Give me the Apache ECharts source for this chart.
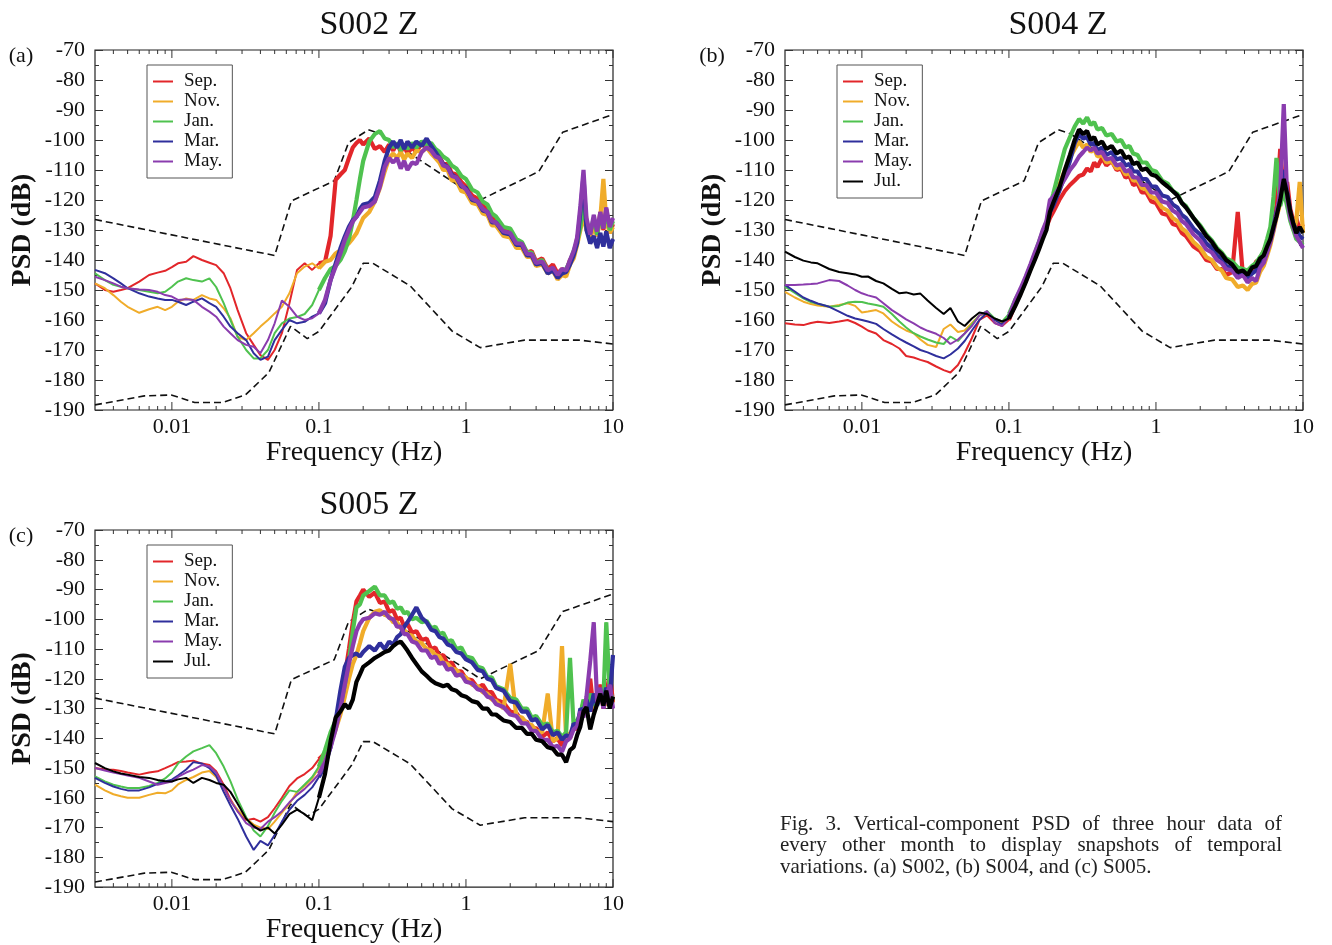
<!DOCTYPE html>
<html><head><meta charset="utf-8">
<script src="https://cdn.jsdelivr.net/npm/echarts@6/dist/echarts.min.js"></script>
<style>html,body{margin:0;padding:0;background:#fff}#chart{width:1332px;height:945px}</style>
</head><body><div id="chart"></div>
<script>
// ---------- DATA ----------
const FREQ = [
0.003,0.0035,0.004,0.0045,0.005,0.006,0.007,0.008,0.009,0.010,
0.011,0.0125,0.014,0.016,0.018,0.020,0.0225,0.025,0.028,0.032,
0.036,0.040,0.045,0.050,0.056,0.063,0.071,0.080,0.090,0.100,
0.11,0.12,0.13,0.14,0.15,0.16,0.17,0.18,
0.19,0.20,0.22,0.24,0.26,0.28,0.30,0.32,0.34,0.36,
0.38,0.40,0.43,0.46,0.50,0.54,0.58,0.62,0.66,0.70,
0.75,0.80,0.86,0.93,1.0,1.1,1.2,1.3,1.4,1.5,
1.6,1.8,2.0,2.2,2.4,2.6,2.8,3.0,3.3,3.6,
3.9,4.2,4.5,4.8,5.1,5.4,5.7,6.0,6.3,6.6,
7.0,7.4,7.8,8.2,8.6,9.0,9.5,10];

// Peterson high / low noise models (dashed)
const NHNM_F = [0.003,0.05,0.065,0.127,0.159,0.217,0.263,1.25,3.13,4.55,10];
const NHNM_DB = [-126.5,-138.5,-120.3,-113.6,-100.9,-96.6,-98.0,-120.0,-110.5,-97.4,-91.5];
const NLNM_F = [0.003,0.0065,0.0099,0.0143,0.022,0.0316,0.0457,0.0641,0.0833,0.1,0.167,0.2,0.233,0.417,0.806,1.25,2.5,5.88,10];
const NLNM_DB = [-188.3,-185.3,-185.0,-187.5,-187.5,-185.0,-177.5,-162.1,-166.2,-163.8,-149.0,-141.1,-141.1,-148.6,-163.7,-169.2,-166.7,-166.7,-168.0];

// Panel (a) S002 Z
const A_SEP = [
-147.8,-150.0,-150.6,-150.0,-149.4,-147.2,-145.0,-144.2,-143.6,-142.4,
-141.1,-140.6,-138.7,-140.0,-140.9,-141.7,-144.4,-149.4,-156.7,-164.4,
-168.3,-171.7,-173.3,-170.0,-164.4,-154.4,-143.3,-141.1,-143.3,-141.1,
-140.6,-132.0,-113.3,-111.5,-110.0,-106.0,-102.5,-101.0,
-100.0,-101.5,-99.5,-103.0,-102.0,-104.0,-101.5,-103.5,-101.0,-104.0,
-102.0,-104.5,-102.5,-104.0,-101.0,-103.0,-102.5,-105.0,-105.5,-108.0,
-108.0,-111.0,-111.5,-114.0,-115.5,-118.5,-119.5,-122.0,-123.0,-126.0,
-126.5,-130.0,-130.5,-134.0,-134.5,-137.5,-137.0,-140.5,-139.5,-143.0,
-141.5,-144.5,-143.0,-144.0,-140.0,-138.5,-133.0,-128.0,-118.0,-127.0,
-133.0,-127.0,-132.0,-124.0,-130.0,-123.0,-131.0,-128.0];
const A_NOV = [
-147.8,-149.4,-151.7,-153.9,-155.6,-157.6,-156.4,-155.6,-156.7,-155.6,
-153.9,-152.8,-153.3,-151.7,-152.8,-153.3,-156.1,-159.4,-165.6,-166.7,
-164.4,-162.2,-160.0,-157.8,-155.6,-151.1,-144.4,-142.2,-141.1,-142.8,
-140.6,-140.0,-137.8,-136.7,-135.6,-134.4,-132.8,-131.1,
-128.5,-126.0,-124.0,-120.5,-116.0,-110.5,-106.0,-104.5,-106.0,-104.0,
-106.5,-104.5,-106.0,-103.5,-104.0,-102.5,-104.5,-106.0,-107.5,-110.0,
-110.0,-113.5,-113.5,-117.0,-117.5,-121.0,-121.5,-124.5,-125.0,-128.5,
-128.5,-132.0,-132.5,-136.0,-136.0,-139.0,-139.0,-142.0,-141.5,-144.5,
-143.5,-146.5,-145.0,-145.5,-141.5,-139.5,-135.0,-130.0,-125.0,-130.0,
-133.0,-128.0,-132.0,-126.0,-113.0,-127.0,-131.0,-129.0];
const A_JAN = [
-144.4,-146.7,-148.3,-148.9,-149.4,-150.0,-150.6,-151.1,-150.6,-148.9,
-147.2,-146.1,-146.7,-147.2,-146.1,-149.0,-154.4,-160.0,-165.6,-170.0,
-172.8,-172.8,-170.0,-164.4,-161.1,-159.5,-159.0,-158.0,-155.0,-150.0,
-146.0,-143.0,-142.0,-140.0,-137.0,-133.0,-127.0,-120.0,
-113.0,-107.0,-100.5,-98.0,-97.0,-99.5,-100.0,-102.5,-101.0,-103.5,
-101.5,-103.0,-101.0,-102.5,-100.5,-101.5,-101.0,-103.0,-104.0,-105.5,
-106.5,-108.5,-109.5,-112.0,-113.0,-116.5,-117.5,-120.5,-121.5,-124.5,
-125.5,-129.0,-129.5,-133.0,-134.0,-137.5,-137.5,-141.0,-140.0,-143.5,
-143.0,-145.5,-143.5,-143.0,-140.5,-137.0,-134.0,-129.0,-121.0,-128.5,
-131.0,-126.0,-131.5,-125.5,-129.0,-124.0,-130.0,-127.0];
const A_MAR = [
-143.3,-144.4,-146.1,-147.8,-149.4,-151.1,-152.2,-152.8,-153.3,-153.3,
-153.9,-155.0,-153.9,-152.8,-154.4,-155.6,-158.9,-162.2,-164.4,-166.7,
-171.1,-173.3,-172.2,-166.7,-163.3,-160.0,-161.1,-160.6,-158.9,-157.8,
-154.4,-146.7,-141.1,-136.1,-132.2,-128.9,-126.7,-125.6,
-123.0,-121.5,-121.0,-119.0,-113.5,-107.0,-102.5,-100.5,-102.5,-100.0,
-103.0,-100.5,-102.5,-100.5,-102.0,-99.5,-102.0,-104.0,-106.0,-108.0,
-109.0,-111.5,-112.5,-115.5,-116.0,-120.0,-120.5,-123.5,-124.0,-127.5,
-127.5,-131.0,-131.5,-135.0,-135.0,-138.5,-138.5,-141.5,-141.0,-144.5,
-143.5,-146.0,-144.5,-144.0,-141.5,-138.5,-134.5,-124.0,-112.0,-130.0,
-134.5,-132.0,-136.0,-131.0,-135.5,-130.5,-136.0,-133.0];
const A_MAY = [
-145.6,-146.7,-147.8,-148.9,-149.4,-149.8,-150.0,-150.6,-151.7,-152.2,
-153.3,-153.1,-153.3,-155.6,-157.2,-158.9,-162.2,-164.4,-166.7,-168.3,
-168.9,-171.1,-166.7,-161.1,-153.5,-155.6,-158.9,-160.0,-159.4,-157.8,
-153.3,-146.7,-142.2,-137.8,-133.3,-130.0,-127.2,-125.6,
-124.0,-122.5,-122.0,-120.5,-115.5,-109.0,-106.0,-107.5,-106.0,-109.5,
-107.0,-110.0,-107.5,-108.0,-104.0,-102.5,-103.5,-105.5,-106.0,-108.5,
-109.0,-112.0,-112.5,-115.0,-116.5,-119.5,-120.5,-123.0,-124.0,-127.0,
-127.5,-130.5,-131.0,-134.5,-134.5,-138.0,-138.0,-141.0,-140.5,-143.5,
-142.5,-145.0,-143.0,-143.5,-140.0,-137.0,-132.5,-122.0,-110.0,-126.0,
-131.5,-125.0,-130.5,-124.0,-129.5,-122.5,-129.0,-126.0];

// Panel (b) S004 Z
const B_SEP = [
-161.1,-161.5,-161.7,-161.0,-160.6,-161.0,-160.5,-160.0,-161.0,-162.2,
-163.5,-164.5,-166.7,-168.0,-169.5,-172.0,-172.5,-173.3,-174.0,-175.5,
-176.7,-177.5,-175.0,-171.0,-166.0,-160.0,-158.5,-161.0,-162.0,-160.0,
-155.0,-151.0,-147.0,-142.0,-139.0,-136.0,-132.0,-129.0,
-126.0,-124.0,-120.0,-117.0,-115.0,-113.5,-112.0,-111.5,-109.5,-110.5,
-107.5,-109.0,-106.0,-108.5,-107.0,-110.0,-109.5,-112.5,-112.0,-115.0,
-114.5,-117.5,-117.5,-120.5,-121.0,-124.5,-125.0,-128.0,-128.5,-131.0,
-132.0,-135.5,-137.0,-140.0,-140.5,-143.0,-143.0,-145.0,-144.0,-124.0,
-145.0,-143.5,-144.0,-140.5,-140.0,-137.0,-134.5,-131.0,-127.0,-122.0,
-103.0,-118.0,-114.0,-123.0,-127.0,-126.0,-130.0,-128.0];
const B_NOV = [
-150.6,-152.5,-153.9,-154.7,-155.2,-155.6,-155.0,-154.4,-155.3,-157.5,
-157.2,-156.7,-157.8,-160.5,-162.2,-163.5,-164.4,-166.5,-168.3,-169.0,
-163.0,-161.5,-164.0,-163.5,-161.0,-158.5,-157.5,-160.0,-161.0,-159.0,
-155.0,-151.0,-147.0,-143.0,-139.5,-135.5,-132.0,-129.0,
-123.0,-120.0,-115.0,-110.0,-106.0,-103.0,-100.5,-102.5,-101.5,-104.0,
-103.0,-105.5,-105.0,-107.5,-107.0,-109.5,-109.0,-111.5,-111.0,-113.5,
-113.5,-116.0,-116.5,-119.0,-119.5,-122.5,-123.5,-126.0,-127.0,-129.5,
-130.5,-134.0,-136.0,-139.0,-140.0,-142.5,-143.5,-146.0,-146.5,-149.0,
-148.5,-150.0,-148.0,-147.5,-144.0,-142.0,-138.5,-135.0,-130.5,-126.0,
-121.0,-115.0,-120.0,-126.0,-130.0,-127.0,-114.0,-131.0];
const B_JAN = [
-148.9,-151.0,-152.8,-154.0,-154.6,-155.6,-155.3,-154.2,-153.9,-154.0,
-154.5,-155.0,-155.6,-158.0,-160.5,-162.5,-164.4,-165.5,-166.5,-167.5,
-168.0,-165.5,-167.0,-164.5,-161.5,-158.5,-157.0,-159.5,-160.5,-158.0,
-153.5,-150.0,-146.0,-142.0,-138.0,-134.0,-130.5,-127.5,
-122.0,-118.0,-110.0,-103.0,-99.0,-95.5,-93.0,-94.5,-92.5,-95.0,
-94.0,-96.5,-96.0,-98.5,-98.0,-100.5,-100.0,-102.5,-102.0,-104.5,
-105.0,-107.5,-107.5,-110.0,-110.5,-113.5,-114.5,-117.0,-118.0,-121.0,
-122.0,-126.0,-128.5,-131.5,-133.5,-136.0,-137.5,-139.5,-140.5,-142.5,
-143.0,-143.5,-142.0,-141.0,-139.0,-137.0,-133.0,-129.0,-119.0,-106.0,
-122.0,-117.0,-122.0,-127.0,-130.0,-133.0,-134.0,-135.0];
const B_MAR = [
-148.3,-150.5,-152.5,-153.6,-154.5,-155.6,-157.2,-158.6,-159.5,-160.0,
-160.5,-161.3,-163.0,-164.8,-166.3,-167.5,-168.8,-170.0,-170.8,-172.0,
-172.8,-171.5,-169.5,-167.0,-163.5,-160.0,-157.5,-160.0,-161.5,-159.0,
-154.5,-150.5,-146.5,-142.5,-138.5,-135.0,-131.5,-128.5,
-124.0,-122.0,-117.0,-112.0,-107.0,-101.0,-98.0,-99.5,-99.0,-101.5,
-101.0,-103.5,-102.5,-105.0,-104.0,-106.5,-106.0,-108.5,-108.0,-110.5,
-110.5,-113.0,-113.0,-115.5,-115.5,-118.5,-119.0,-121.5,-122.5,-125.0,
-126.0,-129.5,-131.5,-134.5,-136.0,-138.5,-139.5,-142.0,-142.5,-145.0,
-144.0,-146.0,-144.5,-143.5,-141.0,-139.5,-136.0,-133.5,-129.0,-124.0,
-119.0,-110.0,-117.0,-124.0,-128.0,-130.0,-132.0,-133.0];
const B_MAY = [
-148.3,-148.3,-148.2,-148.0,-147.8,-146.7,-147.0,-148.5,-150.0,-151.1,
-151.8,-152.5,-154.4,-156.7,-158.3,-159.8,-161.1,-162.5,-163.6,-164.6,
-166.0,-168.0,-166.5,-164.5,-162.0,-158.5,-157.0,-161.0,-162.0,-159.0,
-153.5,-149.5,-145.5,-141.5,-137.5,-134.0,-130.0,-127.0,
-120.0,-119.0,-116.0,-113.0,-110.0,-108.0,-105.5,-104.0,-102.5,-103.5,
-102.5,-104.5,-104.0,-106.5,-106.0,-108.5,-108.0,-110.5,-110.0,-112.5,
-112.5,-115.0,-115.0,-117.5,-117.5,-120.5,-121.0,-123.5,-124.5,-127.0,
-128.0,-131.5,-133.5,-136.5,-137.5,-140.0,-141.0,-143.0,-143.5,-146.0,
-145.0,-147.5,-146.0,-147.0,-142.5,-141.0,-137.5,-134.0,-130.0,-125.0,
-117.0,-88.0,-119.0,-126.0,-129.0,-132.0,-134.0,-136.0];
const B_JUL = [
-137.2,-139.0,-140.2,-140.8,-141.1,-143.0,-144.0,-144.4,-144.8,-145.6,
-145.5,-147.0,-147.8,-149.6,-151.1,-150.8,-151.5,-151.2,-153.5,-156.0,
-158.0,-156.0,-160.5,-162.0,-159.5,-157.5,-158.0,-159.5,-160.5,-159.5,
-155.5,-151.5,-147.5,-143.5,-140.0,-136.5,-133.0,-130.0,
-124.0,-121.0,-116.0,-110.0,-105.0,-100.0,-96.5,-98.0,-97.0,-100.0,
-99.0,-101.5,-100.5,-103.0,-102.0,-104.5,-103.5,-106.0,-105.5,-108.0,
-107.5,-110.0,-109.5,-111.5,-112.0,-114.0,-115.5,-117.0,-118.5,-121.0,
-122.5,-126.0,-129.0,-132.0,-134.0,-136.5,-138.0,-140.0,-141.5,-144.0,
-143.5,-145.0,-142.5,-142.0,-139.5,-138.5,-135.5,-133.0,-129.0,-125.5,
-120.0,-113.0,-118.0,-124.0,-128.0,-131.0,-129.0,-131.0];

// Panel (c) S005 Z
const C_SEP = [
-150.0,-150.5,-150.6,-151.0,-151.5,-152.2,-151.5,-151.1,-150.0,-149.0,
-148.0,-147.8,-147.5,-148.5,-149.0,-151.1,-155.6,-160.5,-164.5,-167.5,
-167.0,-168.0,-166.5,-163.5,-160.0,-156.0,-153.5,-152.0,-150.0,-147.0,
-145.0,-140.0,-134.0,-127.0,-119.0,-110.0,-101.0,-94.0,
-92.0,-90.0,-92.5,-91.0,-94.5,-94.0,-97.5,-97.0,-100.0,-99.5,
-102.5,-101.5,-104.5,-104.0,-107.0,-106.5,-110.0,-109.5,-112.5,-112.0,
-115.0,-114.5,-117.5,-117.5,-120.0,-120.5,-123.0,-122.0,-124.5,-124.5,
-127.0,-128.0,-131.0,-131.5,-134.0,-134.5,-137.0,-136.5,-139.5,-138.0,
-141.0,-140.0,-142.5,-138.0,-140.0,-136.0,-137.0,-132.0,-128.0,-130.0,
-120.0,-131.0,-128.0,-122.0,-130.0,-126.0,-118.0,-128.0];
const C_NOV = [
-155.6,-157.5,-158.8,-159.5,-160.0,-160.0,-159.0,-158.3,-158.5,-157.5,
-155.5,-154.0,-153.0,-151.5,-151.0,-153.0,-157.0,-161.0,-164.0,-167.0,
-169.0,-170.0,-170.5,-168.0,-165.0,-162.0,-158.0,-156.0,-153.5,-150.0,
-146.0,-142.0,-137.0,-132.0,-126.0,-120.0,-115.0,-112.0,
-108.0,-104.0,-99.5,-97.5,-97.0,-98.5,-99.0,-101.0,-101.0,-103.0,
-103.5,-105.0,-105.5,-107.5,-108.0,-110.0,-110.5,-112.0,-112.5,-114.5,
-115.0,-116.5,-117.0,-119.0,-119.5,-122.0,-122.5,-124.5,-125.0,-127.0,
-127.5,-130.0,-115.0,-132.5,-133.0,-135.0,-135.5,-137.5,-138.0,-125.0,
-141.0,-140.0,-109.0,-140.0,-138.5,-136.0,-134.0,-133.0,-129.0,-131.0,
-127.0,-130.0,-126.0,-128.0,-124.0,-129.0,-126.0,-128.0];
const C_JAN = [
-152.8,-154.5,-155.6,-156.2,-156.7,-156.7,-156.0,-155.0,-153.5,-151.5,
-148.5,-146.1,-144.4,-143.3,-142.3,-145.0,-149.5,-154.4,-160.5,-166.5,
-171.0,-173.0,-169.5,-165.0,-161.0,-157.5,-158.0,-155.5,-153.0,-149.5,
-144.0,-138.0,-134.0,-129.0,-122.0,-114.0,-104.0,-96.0,
-95.0,-92.0,-90.5,-89.0,-92.0,-92.0,-94.5,-94.0,-96.5,-96.0,
-98.0,-97.5,-100.0,-99.5,-101.0,-100.5,-103.0,-102.5,-105.0,-104.5,
-107.5,-107.0,-110.0,-109.5,-112.5,-113.0,-116.0,-116.5,-119.5,-119.5,
-122.5,-123.5,-126.5,-127.0,-130.0,-130.0,-133.0,-132.5,-135.5,-135.0,
-138.0,-137.5,-139.5,-138.0,-113.0,-136.0,-134.0,-132.0,-127.0,-131.0,
-125.0,-129.0,-126.0,-124.0,-127.0,-101.0,-124.0,-127.0];
const C_MAR = [
-153.3,-155.0,-156.2,-157.0,-157.5,-157.5,-156.5,-155.3,-154.5,-153.9,
-152.5,-150.5,-148.0,-148.5,-150.0,-152.5,-158.0,-162.5,-167.0,-173.0,
-177.5,-174.5,-176.0,-172.5,-168.0,-164.0,-161.0,-159.0,-156.5,-153.0,
-149.0,-143.0,-134.0,-124.0,-116.0,-113.0,-112.0,-111.5,
-112.5,-111.0,-109.0,-110.5,-108.0,-110.0,-107.5,-108.5,-106.0,-105.0,
-102.5,-101.0,-98.5,-96.0,-99.5,-101.0,-103.5,-104.0,-106.0,-106.5,
-108.5,-109.0,-111.0,-111.5,-113.5,-114.5,-117.0,-117.5,-120.0,-120.5,
-123.0,-124.0,-127.5,-128.0,-131.0,-131.0,-134.0,-133.5,-137.0,-135.5,
-139.0,-138.0,-140.5,-139.0,-139.5,-135.0,-136.0,-130.0,-131.0,-127.0,
-131.0,-125.0,-129.0,-126.0,-128.0,-123.0,-127.0,-112.0];
const C_MAY = [
-150.0,-150.8,-151.5,-152.0,-152.5,-153.3,-154.5,-155.6,-155.0,-154.5,
-153.0,-151.5,-150.5,-149.0,-149.5,-151.5,-156.5,-161.0,-164.5,-168.5,
-170.0,-170.5,-168.0,-166.5,-164.5,-161.5,-159.0,-157.0,-154.5,-152.0,
-148.0,-143.0,-137.0,-130.0,-122.0,-115.0,-109.0,-104.0,
-101.5,-100.0,-99.5,-98.0,-98.5,-97.5,-99.5,-100.0,-102.5,-102.5,
-105.0,-105.0,-107.5,-108.0,-110.5,-110.5,-113.0,-112.5,-115.0,-114.5,
-117.0,-116.5,-119.0,-118.5,-121.0,-121.5,-123.5,-124.0,-126.0,-126.5,
-128.5,-129.5,-132.0,-132.5,-135.0,-135.0,-137.5,-137.5,-140.5,-140.5,
-143.0,-142.5,-144.5,-141.0,-140.0,-137.0,-136.0,-131.0,-133.0,-126.0,
-114.0,-101.0,-128.0,-123.0,-130.0,-126.0,-122.0,-130.0];
const C_JUL = [
-148.3,-150.0,-151.1,-151.8,-152.2,-153.0,-153.3,-154.0,-154.4,-154.5,
-153.8,-153.3,-155.0,-153.3,-154.0,-155.0,-155.6,-158.0,-162.0,-167.0,
-169.5,-171.0,-170.0,-172.0,-169.0,-165.5,-164.0,-165.5,-167.5,-160.0,
-152.0,-141.0,-133.0,-131.0,-128.5,-130.0,-127.0,-121.0,
-118.5,-116.0,-114.5,-113.0,-112.0,-111.0,-110.5,-109.0,-108.0,-107.5,
-109.0,-110.5,-113.0,-115.0,-117.5,-119.0,-120.5,-121.5,-122.0,-122.5,
-122.0,-123.5,-124.0,-125.5,-126.0,-127.5,-128.0,-130.0,-130.0,-132.0,
-132.0,-134.0,-134.5,-136.5,-136.5,-138.5,-138.5,-140.5,-141.0,-143.0,
-143.5,-145.5,-145.5,-148.0,-144.0,-143.0,-139.0,-136.0,-131.0,-129.5,
-137.0,-132.0,-128.5,-125.0,-129.0,-124.0,-130.0,-126.0];

const MONTHS = ['Sep.','Nov.','Jan.','Mar.','May.','Jul.'];
const MAJOR_TICKS = [0.01,0.1,1,10];
const MINOR_TICKS = [0.004,0.005,0.006,0.007,0.008,0.009,0.02,0.03,0.04,0.05,0.06,0.07,0.08,0.09,
                     0.2,0.3,0.4,0.5,0.6,0.7,0.8,0.9,2,3,4,5,6,7,8,9];
const TITLES = ['S002 Z','S004 Z','S005 Z'];
const TAGS = ['(a)','(b)','(c)'];
const CAPTION = ['Fig. 3. Vertical-component PSD of three hour data of',
                 'every other month to display snapshots of temporal',
                 'variations. (a) S002, (b) S004, and (c) S005.'];

// ---------- STYLE / LAYOUT ----------
const SERIF = '"Liberation Serif", "Times New Roman", serif';
const COLORS = {'Sep.':'#e2262a','Nov.':'#f0ac2a','Jan.':'#4fc24f','Mar.':'#2f2f9c','May.':'#8a3cae','Jul.':'#000000'};
const X_MIN = 0.003, X_MAX = 10, Y_MIN = -190, Y_MAX = -70;
const PANELS = [
  {left:95,  top:50,  series:[A_SEP,A_NOV,A_JAN,A_MAR,A_MAY], titleX:369,  tagX:21},
  {left:785, top:50,  series:[B_SEP,B_NOV,B_JAN,B_MAR,B_MAY,B_JUL], titleX:1058, tagX:712},
  {left:95,  top:530, series:[C_SEP,C_NOV,C_JAN,C_MAR,C_MAY,C_JUL], titleX:369,  tagX:21}
];
const GW = 518, GH = 360;

PANELS.forEach(p => p.series.forEach(s => { if (s.length !== FREQ.length) throw new Error('length mismatch ' + s.length); }));

const grid = [], xAxis = [], yAxis = [], series = [], legend = [], graphic = [];

function tickRenderer(len) {
  return function (params, api) {
    const f = api.value(0);
    const b = api.coord([f, Y_MIN]);
    const t = api.coord([f, Y_MAX]);
    const st = {stroke:'#333', lineWidth:1};
    return {type:'group', children:[
      {type:'line', shape:{x1:b[0], y1:b[1], x2:b[0], y2:b[1]-len}, style:st},
      {type:'line', shape:{x1:t[0], y1:t[1], x2:t[0], y2:t[1]+len}, style:st}
    ]};
  };
}

PANELS.forEach((p, k) => {
  grid.push({left:p.left, top:p.top, width:GW, height:GH, show:true, borderColor:'#222', borderWidth:1.2});
  xAxis.push({
    type:'log', logBase:10, gridIndex:k, min:X_MIN, max:X_MAX,
    axisLine:{show:false}, axisTick:{show:false}, splitLine:{show:false}, minorTick:{show:false},
    axisLabel:{fontFamily:SERIF, fontSize:22, color:'#111', margin:6,
      formatter: v => { const l = Math.log10(v); return Math.abs(l - Math.round(l)) < 1e-6 ? String(v) : ''; }},
    name:'Frequency (Hz)', nameLocation:'middle', nameGap:28,
    nameTextStyle:{fontFamily:SERIF, fontSize:28, color:'#111'}
  });
  const yBase = {
    type:'value', gridIndex:k, min:Y_MIN, max:Y_MAX, interval:10,
    axisLine:{show:false}, splitLine:{show:false},
    axisTick:{show:true, inside:true, length:8, lineStyle:{color:'#333'}},
    minorTick:{show:true, splitNumber:2, length:4, lineStyle:{color:'#333'}}
  };
  yAxis.push(Object.assign({}, yBase, {
    position:'left',
    axisLabel:{fontFamily:SERIF, fontSize:22, color:'#111', margin:10},
    name:'PSD (dB)', nameLocation:'middle', nameGap:58, nameRotate:90,
    nameTextStyle:{fontFamily:SERIF, fontSize:28, fontWeight:'bold', color:'#111'}
  }));
  yAxis.push(Object.assign({}, yBase, {position:'right', axisLabel:{show:false}}));
  const yi = 2 * k;

  // noise models
  [[NHNM_F, NHNM_DB], [NLNM_F, NLNM_DB]].forEach(([fs, vs]) => {
    series.push({type:'line', xAxisIndex:k, yAxisIndex:yi, silent:true, symbol:'none', z:2,
      data: fs.map((f, i) => [f, vs[i]]),
      lineStyle:{color:'#111', width:1.6, type:[7,4]}});
  });

  // monthly spectra: thin full line + thicker noisy band part
  p.series.forEach((vals, j) => {
    const name = MONTHS[j], color = COLORS[name];
    series.push({type:'line', name, xAxisIndex:k, yAxisIndex:yi, symbol:'none', silent:true, z:3 + j,
      data: FREQ.map((f, i) => [f, vals[i]]),
      itemStyle:{color}, lineStyle:{color, width:2}});
    series.push({type:'line', name, xAxisIndex:k, yAxisIndex:yi, symbol:'none', silent:true, z:3 + j,
      data: FREQ.map((f, i) => [f, f >= 0.1 ? vals[i] : null]),
      itemStyle:{color}, lineStyle:{color, width:4.2}});
  });

  // x ticks (major + minor) on bottom and top, pointing inward
  series.push({type:'custom', xAxisIndex:k, yAxisIndex:yi, silent:true, z:20,
    renderItem: tickRenderer(8), data: MAJOR_TICKS.map(f => [f, Y_MIN]), encode:{x:0, y:1}});
  series.push({type:'custom', xAxisIndex:k, yAxisIndex:yi, silent:true, z:20,
    renderItem: tickRenderer(4), data: MINOR_TICKS.map(f => [f, Y_MIN]), encode:{x:0, y:1}});

  legend.push({
    left: p.left + 52, top: p.top + 15, orient:'vertical', selectedMode:false,
    data: MONTHS.slice(0, p.series.length).map(n => ({name:n, icon:'rect'})),
    itemWidth:20, itemHeight:2, itemGap:1,
    borderColor:'#555', borderWidth:1, padding:[7,10,7,6], backgroundColor:'#fff',
    textStyle:{fontFamily:SERIF, fontSize:19, color:'#111', lineHeight:19, padding:[0,0,0,6]}
  });

  graphic.push({type:'text', style:{text:TITLES[k], x:p.titleX, y:p.top - 25,
    font:'34px ' + SERIF, fill:'#111', textAlign:'center', textVerticalAlign:'middle'}});
  graphic.push({type:'text', style:{text:TAGS[k], x:p.tagX, y:p.top + 6,
    font:'22px ' + SERIF, fill:'#111', textAlign:'center', textVerticalAlign:'middle'}});
});

// caption (first two lines justified)
(function () {
  const ctx = document.createElement('canvas').getContext('2d');
  const font = '21px ' + SERIF;
  ctx.font = font;
  const X0 = 780, W = 502, Y0 = 824, LH = 21.5;
  CAPTION.forEach((line, li) => {
    const y = Y0 + li * LH;
    if (li === CAPTION.length - 1) {
      graphic.push({type:'text', style:{text:line, x:X0, y, font, fill:'#222', textAlign:'left', textVerticalAlign:'middle'}});
      return;
    }
    const words = line.split(' ');
    const widths = words.map(w => ctx.measureText(w).width);
    const gap = (W - widths.reduce((a, b) => a + b, 0)) / (words.length - 1);
    let x = X0;
    words.forEach((w, i) => {
      graphic.push({type:'text', style:{text:w, x, y, font, fill:'#222', textAlign:'left', textVerticalAlign:'middle'}});
      x += widths[i] + gap;
    });
  });
})();

const chart = echarts.init(document.getElementById('chart'));
chart.setOption({animation:false, backgroundColor:'#fff', grid, xAxis, yAxis, series, legend, graphic});
</script>
</body></html>
